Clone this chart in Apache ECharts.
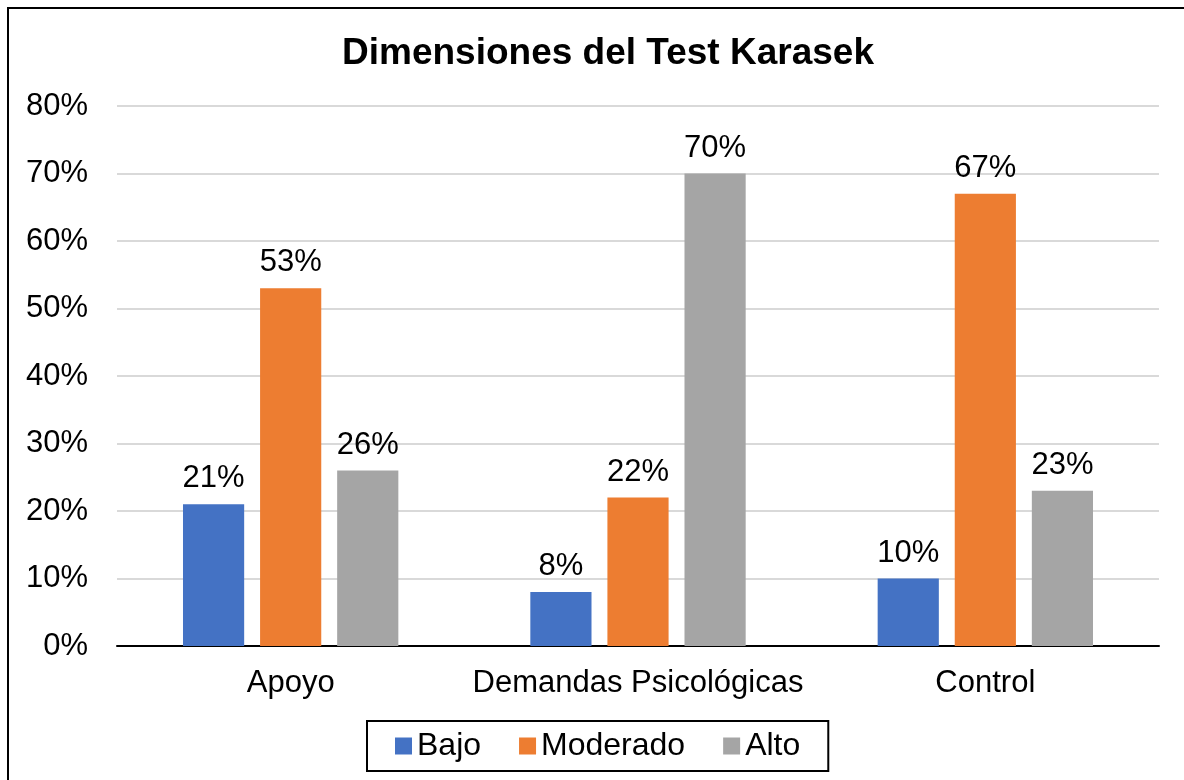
<!DOCTYPE html>
<html>
<head>
<meta charset="utf-8">
<script src="https://cdn.jsdelivr.net/npm/echarts@6/dist/echarts.min.js"></script>
<style>
  html, body { margin: 0; padding: 0; background: #fff; }
  #chart { width: 1184px; height: 780px; }
</style>
</head>
<body>
<div id="chart"></div>
<script>
// categorías y valores (%)
const categories = ['Apoyo', 'Demandas Psicológicas', 'Control'];
const bajo = [21, 8, 10];
const moderado = [53, 22, 67];
const alto = [26, 70, 23];

const font = "'Liberation Sans', Arial, sans-serif";

const chart = echarts.init(document.getElementById('chart'));

function barSerie(name, data, color) {
  return {
    name: name,
    type: 'bar',
    data: data,
    barGap: '26%',
    barCategoryGap: '38%',
    itemStyle: { color: color },
    label: {
      show: true,
      position: 'top',
      distance: 10,
      formatter: '{c}%',
      color: '#000',
      fontSize: 31,
      fontFamily: font
    }
  };
}

const option = {
  backgroundColor: '#fff',
  animation: false,
  title: {
    text: 'Dimensiones del Test Karasek',
    left: 603,
    top: 30,
    textAlign: 'center',
    textStyle: { fontSize: 37, fontWeight: 'bold', color: '#000', fontFamily: font }
  },
  graphic: [{
    // marco exterior
    type: 'rect',
    shape: { x: 8, y: 8, width: 1200, height: 800 },
    style: { fill: 'none', stroke: '#000', lineWidth: 2 },
    silent: true
  }],
  legend: {
    bottom: 9,
    left: 367,
    itemWidth: 17,
    itemHeight: 17,
    itemGap: 38,
    padding: [9, 28, 9, 28],
    borderColor: '#000',
    borderWidth: 2,
    icon: 'rect',
    textStyle: { fontSize: 32, color: '#000', fontFamily: font },
    data: ['Bajo', 'Moderado', 'Alto']
  },
  grid: { left: 117, right: 25, top: 106, bottom: 134 },
  xAxis: {
    type: 'category',
    data: categories,
    axisLine: { lineStyle: { color: '#000', width: 2 } },
    axisTick: { show: false },
    axisLabel: { interval: 0, fontSize: 31, color: '#000', fontFamily: font, margin: 22 }
  },
  yAxis: {
    type: 'value',
    min: 0,
    max: 80,
    interval: 10,
    axisLine: { show: false },
    axisTick: { show: false },
    splitLine: { lineStyle: { color: '#d9d9d9', width: 2 } },
    axisLabel: { formatter: '{value}%', fontSize: 31, color: '#000', fontFamily: font, margin: 29 }
  },
  series: [
    barSerie('Bajo', bajo, '#4472C4'),
    barSerie('Moderado', moderado, '#ED7D31'),
    barSerie('Alto', alto, '#A5A5A5')
  ]
};

chart.setOption(option);
</script>
</body>
</html>
